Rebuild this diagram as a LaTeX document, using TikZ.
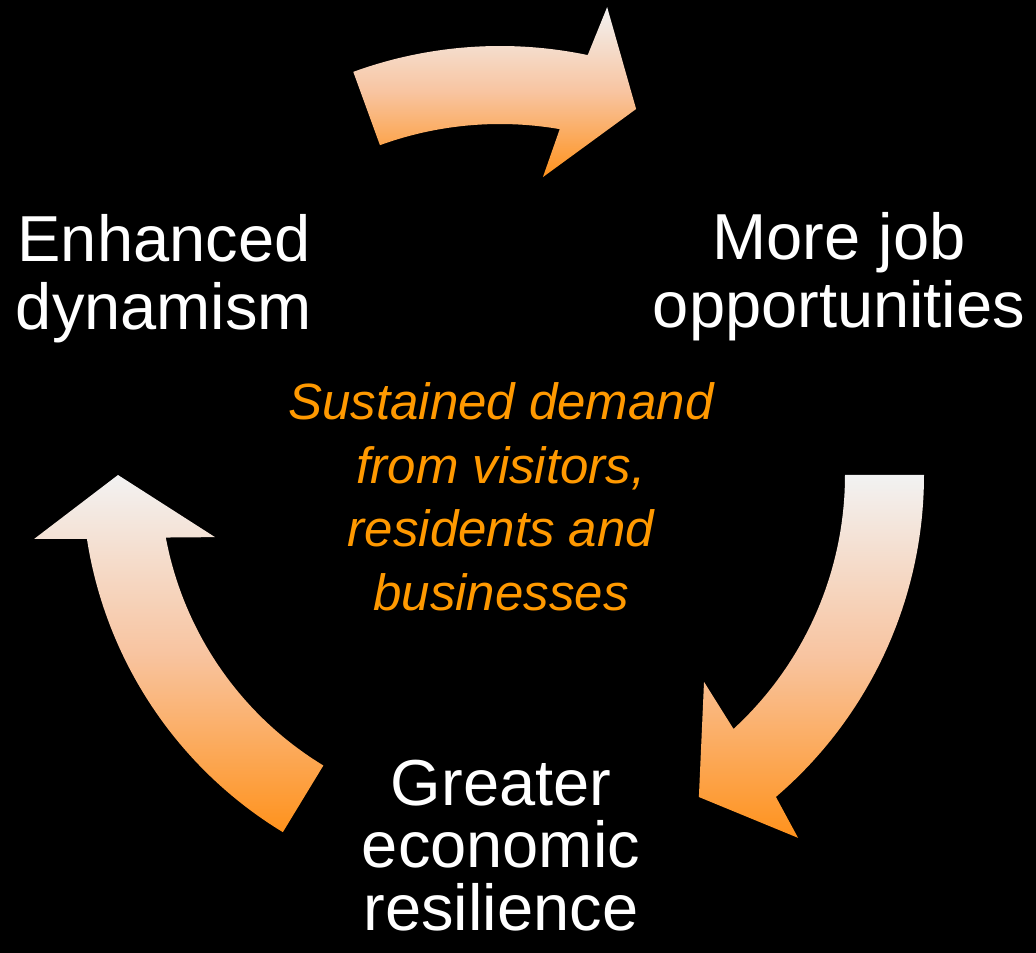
\documentclass[tikz,border=0pt]{standalone}
\usepackage{fontspec}
\setmainfont{Liberation Sans}
\usepackage{xcolor}
\definecolor{arrowtop}{RGB}{242,242,242}
\definecolor{arrowmid}{RGB}{248,196,160}
\definecolor{arrowbot}{RGB}{255,146,28}
\definecolor{demand}{RGB}{255,153,0}
\begin{document}
\begin{tikzpicture}[x=1pt,y=1pt,
    cyclearrow/.style={top color=arrowtop,bottom color=arrowbot,middle color=arrowmid,draw=none},
    steplabel/.style={text=white,align=center,anchor=base,font=\fontsize{65}{68}\selectfont},
    demandlabel/.style={text=demand,align=center,anchor=base,font=\fontsize{51}{63.5}\selectfont\itshape}]
	\fill[black] (-500,-478) rectangle (536,475);
	\useasboundingbox (-500,-478) rectangle (536,475);
	
	\path[cyclearrow] (110:429) arc[start angle=110,end angle=78.2,radius=429] -- (77.1:480) -- (69.6:390.5) -- (81.8:301) -- (80.2:351) arc[start angle=80.2,end angle=110,radius=351] -- cycle;
	\path[cyclearrow] (0:424) arc[start angle=0,end angle=-49.4,radius=424] -- (-50.6:469.6) -- (-58.3:378.5) -- (-45.4:290.6) -- (-47.4:345) arc[start angle=-47.4,end angle=0,radius=345] -- cycle;
	\path[cyclearrow] (238.7:418) arc[start angle=238.7,end angle=188.8,radius=418] -- (187.8:470) -- (180:382) -- (192.3:291.7) -- (190.6:340) arc[start angle=190.6,end angle=238.7,radius=340] -- cycle;
	
	\node[steplabel] (dyn) at (-336,145) {Enhanced\\dynamism};
	\node[steplabel] (job) at (339,147) {More job\\opportunities};
	\node[steplabel,font=\fontsize{65}{62.5}\selectfont] (res) at (1,-455) {Greater\\economic\\resilience};
	\node[demandlabel] (demand) at (1,-135) {Sustained demand\\from visitors,\\residents and\\businesses};
\end{tikzpicture}
\end{document}
